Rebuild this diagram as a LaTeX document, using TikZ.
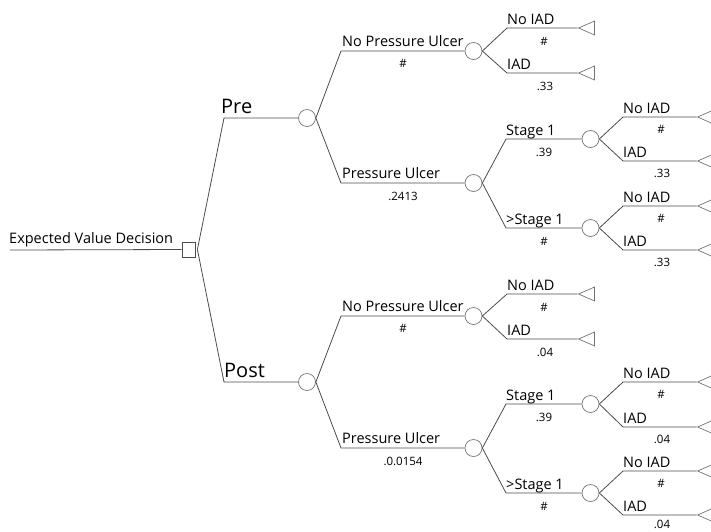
\documentclass[tikz,border=0pt]{standalone}
\usepackage{fontspec}
\setmainfont{Open Sans}
\usetikzlibrary{shapes.geometric}
\begin{document}
\begin{tikzpicture}[x=1pt, y=-1pt, font=\fontsize{14.5}{16}\selectfont]
    \tikzstyle{branch_style} = [draw=black!70, line width=0.8]
    \tikzstyle{decision_style} = [draw=black!70, rectangle, minimum width=13, minimum height=15, inner sep=0, line width=0.8]
    \tikzstyle{chance_style} = [draw=black!55, circle, minimum size=17, inner sep=0, line width=0.7]
    \tikzstyle{end_style} = [draw=black!55, isosceles triangle, isosceles triangle stretches, shape border rotate=180, minimum width=14, minimum height=16, inner sep=0, line width=0.7]
    \tikzstyle{name_style} = [anchor=base west, inner sep=0]
    \tikzstyle{big_style} = [anchor=base west, inner sep=0, font=\fontsize{20}{23}\selectfont]
    \tikzstyle{prob_style} = [inner sep=0, font=\fontsize{11.5}{13}\selectfont]

    \useasboundingbox (0,0) rectangle (711,531);

    % decision
    \coordinate (start) at (10,250);
    \node[decision_style] (dec) at (188.5,249.5) {};
    \node[name_style] (l_dec) at (9,243) {Expected Value Decision};
    \draw[branch_style] (start) -- (dec.west);

    % pre / post
    \coordinate (k_pre) at (224,118);
    \coordinate (k_post) at (224,382);
    \node[chance_style] (c_pre) at (307,118) {};
    \node[chance_style] (c_post) at (307,382) {};
    \node[big_style] (l_pre) at (221,113) {Pre};
    \node[big_style] (l_post) at (224,377) {Post};
    \draw[branch_style] ([xshift=2]dec.east) -- (k_pre) -- (c_pre.west);
    \draw[branch_style] ([xshift=2]dec.east) -- (k_post) -- (c_post.west);

    % pressure ulcer
    \coordinate (k_pre_npu) at (341,51);
    \coordinate (k_pre_pu) at (341,183);
    \coordinate (k_post_npu) at (341,316);
    \coordinate (k_post_pu) at (341,448);
    \node[chance_style] (c_pre_npu) at (473.5,51) {};
    \node[chance_style] (c_pre_pu) at (473.5,183) {};
    \node[chance_style] (c_post_npu) at (473.5,316) {};
    \node[chance_style] (c_post_pu) at (473.5,448) {};
    \draw[branch_style] (c_pre.east) -- (k_pre_npu) -- (c_pre_npu.west);
    \draw[branch_style] (c_pre.east) -- (k_pre_pu) -- (c_pre_pu.west);
    \draw[branch_style] (c_post.east) -- (k_post_npu) -- (c_post_npu.west);
    \draw[branch_style] (c_post.east) -- (k_post_pu) -- (c_post_pu.west);
    \node[name_style] (l_pre_npu) at (342,46) {No Pressure Ulcer};
    \node[prob_style] (p_pre_npu) at (403,63) {\#};
    \node[name_style] (l_pre_pu) at (342,178) {Pressure Ulcer};
    \node[prob_style] (p_pre_pu) at (403,196) {.2413};
    \node[name_style] (l_post_npu) at (342,311) {No Pressure Ulcer};
    \node[prob_style] (p_post_npu) at (403,328) {\#};
    \node[name_style] (l_post_pu) at (342,443) {Pressure Ulcer};
    \node[prob_style] (p_post_pu) at (403,461) {.0.0154};

    % stages
    \coordinate (k_pre_s1) at (506,139);
    \coordinate (k_pre_s2) at (506,228);
    \coordinate (k_post_s1) at (506,404);
    \coordinate (k_post_s2) at (506,493);
    \node[chance_style] (c_pre_s1) at (590.5,139) {};
    \node[chance_style] (c_pre_s2) at (590.5,228) {};
    \node[chance_style] (c_post_s1) at (590.5,404) {};
    \node[chance_style] (c_post_s2) at (590.5,493) {};
    \draw[branch_style] (c_pre_pu.east) -- (k_pre_s1) -- (c_pre_s1.west);
    \draw[branch_style] (c_pre_pu.east) -- (k_pre_s2) -- (c_pre_s2.west);
    \draw[branch_style] (c_post_pu.east) -- (k_post_s1) -- (c_post_s1.west);
    \draw[branch_style] (c_post_pu.east) -- (k_post_s2) -- (c_post_s2.west);
    \node[name_style] (l_pre_s1) at (506,135) {Stage 1};
    \node[prob_style] (p_pre_s1) at (544,152) {.39};
    \node[name_style] (l_pre_s2) at (506,224) {>Stage 1};
    \node[prob_style] (p_pre_s2) at (544,241) {\#};
    \node[name_style] (l_post_s1) at (506,400) {Stage 1};
    \node[prob_style] (p_post_s1) at (544,417) {.39};
    \node[name_style] (l_post_s2) at (506,489) {>Stage 1};
    \node[prob_style] (p_post_s2) at (544,506) {\#};

    % IAD after no pressure ulcer
    \coordinate (k_pre_npu_no) at (507,28);
    \coordinate (k_pre_npu_iad) at (507,73);
    \coordinate (k_post_npu_no) at (507,294);
    \coordinate (k_post_npu_iad) at (507,339);
    \node[end_style] (t_pre_npu_no) at (590,28) {};
    \node[end_style] (t_pre_npu_iad) at (590,73) {};
    \node[end_style] (t_post_npu_no) at (590,294) {};
    \node[end_style] (t_post_npu_iad) at (590,339) {};
    \draw[branch_style] (c_pre_npu.east) -- (k_pre_npu_no) -- (t_pre_npu_no.apex);
    \draw[branch_style] (c_pre_npu.east) -- (k_pre_npu_iad) -- (t_pre_npu_iad.apex);
    \draw[branch_style] (c_post_npu.east) -- (k_post_npu_no) -- (t_post_npu_no.apex);
    \draw[branch_style] (c_post_npu.east) -- (k_post_npu_iad) -- (t_post_npu_iad.apex);
    \node[name_style] (l_pre_npu_no) at (507,24) {No IAD};
    \node[prob_style] (p_pre_npu_no) at (544,41) {\#};
    \node[name_style] (l_pre_npu_iad) at (507,69) {IAD};
    \node[prob_style] (p_pre_npu_iad) at (545,86) {.33};
    \node[name_style] (l_post_npu_no) at (507,290) {No IAD};
    \node[prob_style] (p_post_npu_no) at (544,307) {\#};
    \node[name_style] (l_post_npu_iad) at (507,335) {IAD};
    \node[prob_style] (p_post_npu_iad) at (545,352) {.04};

    % IAD after stages
    \coordinate (k_pre_s1_no) at (623,117);
    \coordinate (k_pre_s1_iad) at (623,161);
    \coordinate (k_pre_s2_no) at (623,206);
    \coordinate (k_pre_s2_iad) at (623,250);
    \coordinate (k_post_s1_no) at (623,382);
    \coordinate (k_post_s1_iad) at (623,427);
    \coordinate (k_post_s2_no) at (623,471);
    \coordinate (k_post_s2_iad) at (623,515);
    \node[end_style] (t_pre_s1_no) at (709,117) {};
    \node[end_style] (t_pre_s1_iad) at (709,161) {};
    \node[end_style] (t_pre_s2_no) at (709,206) {};
    \node[end_style] (t_pre_s2_iad) at (709,250) {};
    \node[end_style] (t_post_s1_no) at (709,382) {};
    \node[end_style] (t_post_s1_iad) at (709,427) {};
    \node[end_style] (t_post_s2_no) at (709,471) {};
    \node[end_style] (t_post_s2_iad) at (709,515) {};
    \draw[branch_style] (c_pre_s1.east) -- (k_pre_s1_no) -- (t_pre_s1_no.apex);
    \draw[branch_style] (c_pre_s1.east) -- (k_pre_s1_iad) -- (t_pre_s1_iad.apex);
    \draw[branch_style] (c_pre_s2.east) -- (k_pre_s2_no) -- (t_pre_s2_no.apex);
    \draw[branch_style] (c_pre_s2.east) -- (k_pre_s2_iad) -- (t_pre_s2_iad.apex);
    \draw[branch_style] (c_post_s1.east) -- (k_post_s1_no) -- (t_post_s1_no.apex);
    \draw[branch_style] (c_post_s1.east) -- (k_post_s1_iad) -- (t_post_s1_iad.apex);
    \draw[branch_style] (c_post_s2.east) -- (k_post_s2_no) -- (t_post_s2_no.apex);
    \draw[branch_style] (c_post_s2.east) -- (k_post_s2_iad) -- (t_post_s2_iad.apex);
    \node[name_style] (l_pre_s1_no) at (623,113) {No IAD};
    \node[prob_style] (p_pre_s1_no) at (661,129) {\#};
    \node[name_style] (l_pre_s1_iad) at (623,157) {IAD};
    \node[prob_style] (p_pre_s1_iad) at (662,173) {.33};
    \node[name_style] (l_pre_s2_no) at (623,202) {No IAD};
    \node[prob_style] (p_pre_s2_no) at (661,218) {\#};
    \node[name_style] (l_pre_s2_iad) at (623,246) {IAD};
    \node[prob_style] (p_pre_s2_iad) at (662,262) {.33};
    \node[name_style] (l_post_s1_no) at (623,378) {No IAD};
    \node[prob_style] (p_post_s1_no) at (661,394) {\#};
    \node[name_style] (l_post_s1_iad) at (623,423) {IAD};
    \node[prob_style] (p_post_s1_iad) at (662,439) {.04};
    \node[name_style] (l_post_s2_no) at (623,467) {No IAD};
    \node[prob_style] (p_post_s2_no) at (661,483) {\#};
    \node[name_style] (l_post_s2_iad) at (623,511) {IAD};
    \node[prob_style] (p_post_s2_iad) at (662,524) {.04};
\end{tikzpicture}
\end{document}
